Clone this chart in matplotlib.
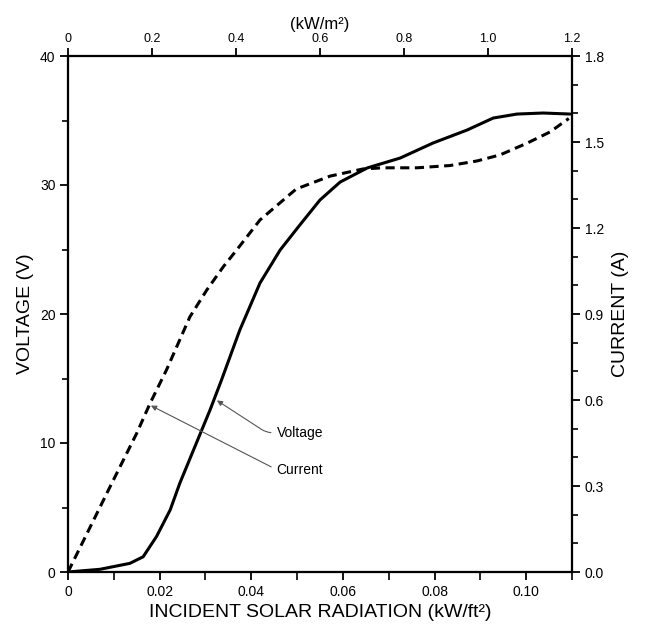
import matplotlib
matplotlib.use("Agg")
import matplotlib.pyplot as plt
from matplotlib.ticker import MultipleLocator

plt.rcParams['font.family'] = ['Liberation Sans', 'DejaVu Sans']

# Voltage curve (solid), kW/ft2 vs volts
volt_x = [0, 0.0070, 0.0135, 0.0164, 0.0193, 0.0223, 0.0244, 0.0310, 0.0335,
          0.0375, 0.0419, 0.0463, 0.0506, 0.0550, 0.0594, 0.0653, 0.0725, 0.0797,
          0.0871, 0.0928, 0.0980, 0.1037, 0.1096]
volt_y = [0, 0.21, 0.67, 1.18, 2.74, 4.81, 6.88, 12.56, 14.88,
          18.76, 22.40, 24.96, 26.90, 28.84, 30.23, 31.32, 32.09, 33.26,
          34.26, 35.19, 35.50, 35.58, 35.50]

# Current curve (dashed), kW/ft2 vs amps
curr_x = [0, 0.0092, 0.0150, 0.0179, 0.0215, 0.0266, 0.0303, 0.0339, 0.0368,
          0.0419, 0.0498, 0.0572, 0.0644, 0.0687, 0.0762, 0.0834, 0.0893, 0.0943,
          0.1002, 0.1052, 0.1093]
curr_y = [0, 0.298, 0.484, 0.588, 0.705, 0.890, 0.984, 1.065, 1.123,
          1.228, 1.336, 1.381, 1.406, 1.410, 1.410, 1.418, 1.434, 1.455,
          1.496, 1.535, 1.582]

bottom_ticks = [0, 0.02, 0.04, 0.06, 0.08, 0.10]
bottom_labels = ['0', '0.02', '0.04', '0.06', '0.08', '0.10']
top_ticks = [0, 0.2, 0.4, 0.6, 0.8, 1.0, 1.2]
top_labels = ['0', '0.2', '0.4', '0.6', '0.8', '1.0', '1.2']

fig = plt.figure(figsize=(6.56, 6.32), dpi=100)
ax = fig.add_axes([68 / 656, 60 / 632, 504 / 656, 516 / 632])

ax.plot(volt_x, volt_y, color='black', lw=2.2, solid_capstyle='round',
        solid_joinstyle='round')
ax.set_xlim(0, 0.11)
ax.set_ylim(0, 40)
ax.set_xticks(bottom_ticks)
ax.set_xticklabels(bottom_labels)
ax.xaxis.set_minor_locator(MultipleLocator(0.01))
ax.set_yticks([0, 10, 20, 30, 40])
ax.yaxis.set_minor_locator(MultipleLocator(5))
ax.set_xlabel('INCIDENT SOLAR RADIATION (kW/ft²)', fontsize=14, labelpad=4)
ax.set_ylabel('VOLTAGE (V)', fontsize=14, labelpad=4)

ax2 = ax.twinx()
ax2.plot(curr_x, curr_y, color='black', lw=2.2, linestyle=(0, (3, 1.8)))
ax2.set_ylim(0, 1.8)
ax2.set_yticks([0, 0.3, 0.6, 0.9, 1.2, 1.5, 1.8])
ax2.set_yticklabels(['0.0', '0.3', '0.6', '0.9', '1.2', '1.5', '1.8'])
ax2.yaxis.set_minor_locator(MultipleLocator(0.1))
ax2.set_ylabel('CURRENT (A)', fontsize=14, labelpad=6)

ax3 = ax.twiny()
ax3.set_xlim(0, 1.2)
ax3.set_xticks(top_ticks)
ax3.set_xticklabels(top_labels)
ax3.set_xlabel('(kW/m²)', fontsize=12, labelpad=3)

for a in (ax, ax2, ax3):
    for s in a.spines.values():
        s.set_linewidth(1.5)
    a.tick_params(which='major', direction='out', length=6, width=1.3, labelsize=10, pad=3)
    a.tick_params(which='minor', direction='out', length=4, width=1.2)
ax.tick_params(axis='x', which='minor', length=6)
ax3.tick_params(axis='x', labelsize=9, pad=2)

# leader annotations
ax.annotate('Voltage', xy=(0.0325, 13.3), xytext=(0.0455, 10.8),
            fontsize=10, ha='left', va='center',
            arrowprops=dict(arrowstyle='-|>', color='#555555', lw=0.8,
                            mutation_scale=8, shrinkA=2, shrinkB=0,
                            connectionstyle='angle,angleA=0,angleB=-33,rad=6'))
ax.annotate('Current', xy=(0.0181, 12.9), xytext=(0.0455, 7.9),
            fontsize=10, ha='left', va='center',
            arrowprops=dict(arrowstyle='-|>', color='#555555', lw=0.8,
                            mutation_scale=8, shrinkA=2, shrinkB=0,
                            connectionstyle='angle,angleA=0,angleB=-27,rad=6'))

fig.savefig('out.png', dpi=100)
